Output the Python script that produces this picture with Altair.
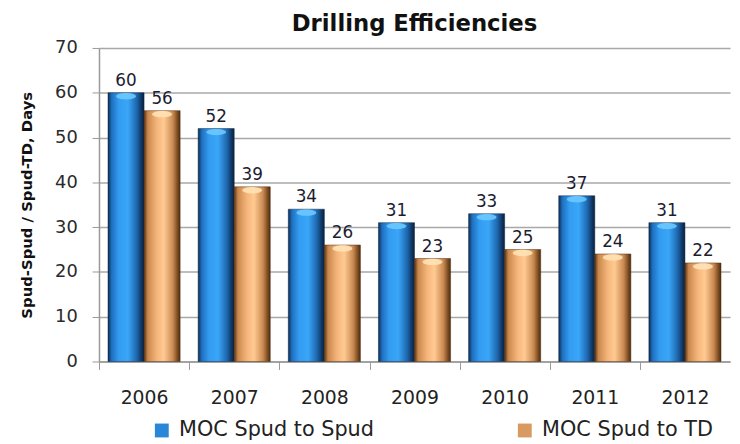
import altair as alt
import pandas as pd

years = ["2006", "2007", "2008", "2009", "2010", "2011", "2012"]
spud_to_spud = [60, 52, 34, 31, 33, 37, 31]
spud_to_td = [56, 39, 26, 23, 25, 24, 22]
series_names = ["MOC Spud to Spud", "MOC Spud to TD"]

rows = []
for y, a, b in zip(years, spud_to_spud, spud_to_td):
    rows.append({"year": y, "series": series_names[0], "value": a})
    rows.append({"year": y, "series": series_names[1], "value": b})
df = pd.DataFrame(rows)

FONT = "DejaVu Sans"

x_enc = alt.X("year:N", sort=years,
              scale=alt.Scale(paddingInner=0.2, paddingOuter=0.1),
              axis=alt.Axis(title=None, labelAngle=0, labelFont=FONT, labelFontSize=19,
                            labelColor="#222222", labelPadding=19, tickSize=8,
                            tickColor="#999999", domainColor="#999999", domainWidth=1.5,
                            tickOffset=-45.5, labelOffset=45.5, grid=False))
xo_enc = alt.XOffset("series:N", sort=series_names, scale=alt.Scale(domain=series_names))
y_enc = alt.Y("value:Q", scale=alt.Scale(domain=[0, 70]),
              axis=alt.Axis(title="Spud-Spud / Spud-TD, Days", values=list(range(0, 71, 10)),
                            titleFont=FONT, titleFontSize=15, titleFontWeight="bold",
                            titleColor="#111111", titlePadding=20,
                            labelFont=FONT, labelFontSize=18, labelColor="#2a2a2a",
                            labelPadding=15, tickSize=7, tickColor="#999999",
                            domainColor="#999999", domainWidth=1.5,
                            gridColor="#a8a8a8", gridWidth=1.5))

base = alt.Chart(df).encode(x=x_enc, xOffset=xo_enc, y=y_enc)


def grad(stops):
    return alt.Gradient(gradient="linear", x1=0, x2=1, y1=0, y2=0,
                        stops=[alt.GradientStop(color=c, offset=o) for o, c in stops])


blue_grad = grad([(0, "#0e2d52"), (0.1, "#1f6fbf"), (0.3, "#339cf0"), (0.55, "#3aa6f8"),
                  (0.8, "#1d66ad"), (0.93, "#0f3560"), (1, "#0a2240")])
tan_grad = grad([(0, "#5a3312"), (0.1, "#c9874c"), (0.35, "#f5b57a"), (0.55, "#ffca92"),
                 (0.8, "#c98a52"), (0.93, "#7a4a20"), (1, "#4e2b0e")])

ellipse = "M-1,0.35 A1,0.32 0 1,0 1,0.35 A1,0.32 0 1,0 -1,0.35 Z"

blue_bars = base.transform_filter(alt.datum.series == series_names[0]).mark_bar(
    color=blue_grad, stroke="#0a2240", strokeWidth=0.5)
tan_bars = base.transform_filter(alt.datum.series == series_names[1]).mark_bar(
    color=tan_grad, stroke="#4e2b0e", strokeWidth=0.5)
blue_hi = base.transform_filter(alt.datum.series == series_names[0]).mark_point(
    shape=ellipse, size=400, filled=True, fill="#6cc8ff", opacity=0.9, strokeWidth=0)
tan_hi = base.transform_filter(alt.datum.series == series_names[1]).mark_point(
    shape=ellipse, size=400, filled=True, fill="#ffe2b4", opacity=0.9, strokeWidth=0)

legend_layer = base.mark_bar(opacity=0).encode(
    color=alt.Color("series:N", sort=series_names,
                    scale=alt.Scale(domain=series_names, range=["#2a86d6", "#d99a62"]),
                    legend=alt.Legend(title=None, orient="none", direction="horizontal",
                                      legendX=53, legendY=376, padding=0,
                                      symbolType="square", symbolSize=196,
                                      symbolOpacity=1, symbolStrokeWidth=0,
                                      labelFont=FONT, labelFontSize=21, labelColor="#222222",
                                      labelOffset=7, columnPadding=141, labelLimit=400)))

labels = base.mark_text(dy=-3, baseline="bottom", font=FONT, fontSize=17,
                        color="#1c1c30").encode(text=alt.Text("value:Q"))

chart = alt.layer(legend_layer, blue_bars, tan_bars, blue_hi, tan_hi, labels).properties(
    width=638, height=317,
    title=alt.TitleParams("Drilling Efficiencies", font=FONT, fontSize=23,
                          fontWeight="bold", color="#111111", anchor="middle", offset=3),
    autosize=alt.AutoSizeParams(type="none"),
    padding={"left": 92, "top": 38, "right": 2, "bottom": 80},
).configure_view(strokeWidth=0)

chart.save("out.html", embed_options={"renderer": "svg", "actions": False})
